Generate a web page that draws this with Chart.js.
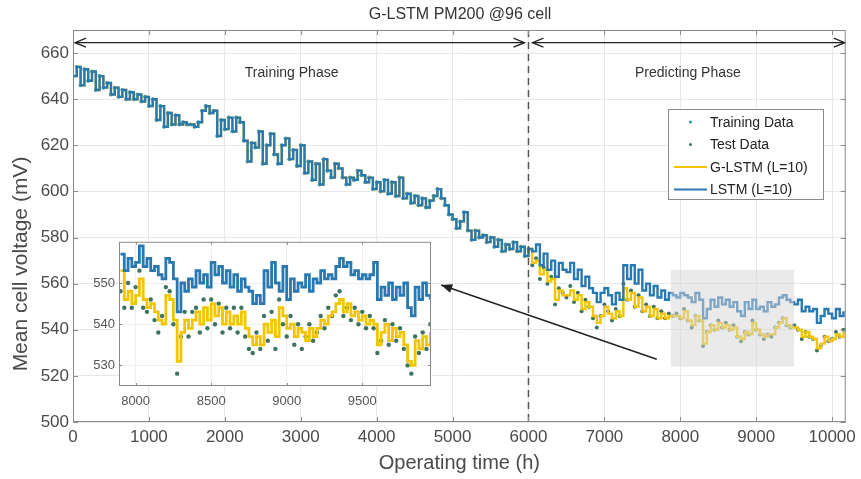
<!DOCTYPE html>
<html>
<head>
<meta charset="utf-8">
<script src="https://cdn.jsdelivr.net/npm/chart.js@4.4.1/dist/chart.umd.min.js"></script>
<style>
  html, body { margin: 0; padding: 0; background: #fff; }
  #wrap { position: relative; width: 861px; height: 479px; }
  #main { position: absolute; left: 0; top: 0; }
  #inset { position: absolute; left: 88px; top: 230px; }
</style>
</head>
<body>
<div id="wrap">
  <canvas id="main" width="861" height="479"></canvas>
  <canvas id="inset" width="350" height="180"></canvas>
</div>
<script>
// ---- data ----
const step = 50;               // h between samples of the measured curve
const predStart = 6000;        // start of the predicting phase
const measured = [
  650, 654, 646, 653, 648, 652, 644, 650, 645, 647, 642, 645, 641, 644, 640, 643, 640, 642, 639, 641,
  637, 640, 631, 637, 628, 634, 629, 633, 629, 630, 629, 629, 628, 630, 635, 637, 634, 635, 624, 631,
  627, 632, 626, 632, 630, 622, 613, 621, 619, 626, 612, 620, 625, 616, 612, 620, 623, 614, 618, 611,
  620, 608, 613, 605, 612, 603, 614, 609, 606, 612, 610, 606, 603, 606, 605, 609, 607, 604, 606, 601,
  604, 600, 605, 599, 604, 598, 606, 597, 599, 595, 598, 594, 597, 593, 596, 598, 601, 597, 594, 590,
  588, 584, 587, 591, 583, 579, 583, 580, 581, 578, 580, 576, 579, 574, 577, 575, 578, 574, 576, 572,
  575, 568, 571, 562, 567, 560, 563, 551, 558, 556, 554, 559, 552, 556, 548, 553, 550, 545, 541, 546,
  551, 548, 544, 549, 546, 560, 553, 557, 550, 555, 548, 551, 546, 550, 545, 548, 545, 547, 546, 547,
  545, 549, 544, 541, 546, 544, 533, 539, 542, 540, 544, 541, 543, 540, 542, 537, 535, 539, 538, 544,
  540, 538, 536, 538, 537, 541, 543, 545, 542, 541, 542, 540, 536, 539, 537, 536, 531, 533, 537, 535,
  536, 539, 537, 540
];
const lstmPred = [
  576, 574, 577, 568, 573, 566, 570, 563, 569, 566, 565, 569, 562, 566, 559, 563, 558, 556, 552, 556,
  558, 555, 551, 556, 553, 568, 562, 568, 560, 566, 557, 560, 555, 559, 554, 557, 553, 556, 555, 554,
  556, 555, 554, 552, 556, 553, 545, 549, 553, 550, 554, 551, 553, 550, 552, 548, 546, 552, 549, 553,
  549, 550, 548, 552, 550, 551, 554, 555, 553, 552, 551, 553, 548, 550, 548, 549, 543, 546, 549, 547,
  545, 549, 546, 548
];
const glstmPred = [
  574, 569, 570, 564, 566, 561, 562, 553, 557, 555, 555, 557, 553, 555, 549, 552, 550, 546, 543, 546,
  550, 547, 545, 548, 546, 558, 553, 556, 550, 554, 548, 550, 546, 549, 545, 547, 545, 546, 546, 546,
  545, 548, 544, 542, 546, 544, 534, 539, 542, 540, 543, 541, 542, 540, 541, 537, 536, 539, 538, 543,
  540, 538, 537, 538, 538, 541, 543, 545, 542, 541, 541, 540, 537, 539, 537, 536, 532, 534, 537, 535,
  536, 538, 537, 539
];

// inset (zoom on 7900-9950 h), 25 h per sample
const zoomStart = 7900;
const zoomStep = 25;
const lstmZoom = [
  557, 553, 556, 554, 555, 559, 554, 556, 553, 554, 552, 551, 556, 555, 551, 543, 550, 548, 551, 549,
  553, 550, 552, 549, 555, 552, 554, 550, 553, 549, 552, 548, 551, 549, 548, 545, 547, 545, 553, 549,
  555, 550, 548, 554, 546, 551, 548, 550, 549, 552, 548, 551, 550, 553, 551, 552, 551, 554, 556, 554,
  555, 552, 553, 551, 552, 551, 552, 555, 546, 549, 547, 550, 546, 549, 547, 550, 544, 542, 549, 546,
  550, 547, 546
];
const glstmZoom = [
  553, 546, 548, 545, 547, 551, 546, 544, 545, 543, 541, 540, 547, 546, 541, 531, 538, 541, 539, 541,
  543, 540, 544, 541, 545, 542, 544, 540, 543, 540, 542, 540, 543, 539, 537, 535, 537, 535, 540, 538,
  541, 537, 544, 542, 539, 540, 537, 539, 538, 536, 539, 537, 539, 541, 540, 542, 543, 545, 546, 543,
  545, 542, 543, 541, 542, 540, 541, 540, 535, 538, 540, 536, 539, 537, 538, 535, 531, 530, 536, 534,
  537, 535, 538
];
const testZoom = [
  548, 544, 550, 544, 549, 553, 544, 543, 546, 541, 538, 542, 549, 548, 540, 528, 537, 543, 537, 543,
  544, 538, 546, 539, 546, 540, 545, 538, 544, 539, 544, 538, 544, 537, 534, 533, 538, 534, 542, 536,
  543, 534, 546, 540, 537, 542, 535, 540, 534, 537, 540, 536, 538, 542, 539, 544, 542, 547, 548, 542,
  544, 541, 544, 540, 543, 539, 542, 539, 533, 536, 541, 535, 540, 536, 539, 534, 530, 528, 537, 533,
  538, 534, 540
];

const xTicks = [0, 1000, 2000, 3000, 4000, 5000, 6000, 7000, 8000, 9000, 10000];
const yTicks = [500, 520, 540, 560, 580, 600, 620, 640, 660];
const zoomXTicks = [8000, 8500, 9000, 9500];
const zoomYTicks = [530, 540, 550];

// ---- build points ----
const trainPts = [], testPts = [], lstmLine = [], glstmLine = [];
measured.forEach((v, i) => {
  const t = i * step;
  if (t <= predStart) {
    trainPts.push({x: t, y: v});
    lstmLine.push({x: t, y: v});
    glstmLine.push({x: t, y: v});
  } else {
    testPts.push({x: t, y: v});
  }
});
lstmPred.forEach((v, i) => { if (i > 0) lstmLine.push({x: predStart + i * step, y: v}); });
glstmPred.forEach((v, i) => { if (i > 0) glstmLine.push({x: predStart + i * step, y: v}); });

const zt = i => zoomStart + i * zoomStep;
const lstmZ = lstmZoom.map((v, i) => ({x: zt(i), y: v}));
const glstmZ = glstmZoom.map((v, i) => ({x: zt(i), y: v}));
const testZ = testZoom.map((v, i) => ({x: zt(i), y: v}));

const BLUE = '#2878b2';
const YELLOW = '#f2c500';
const TRAIN = '#2f8fa6';
const TEST = '#3d735f';
const FONT = "'Liberation Sans', Arial, sans-serif";

function arrowHead(ctx, x, y, dir, filled) {
  ctx.beginPath();
  ctx.moveTo(x - dir * 11, y - 4.5);
  ctx.lineTo(x, y);
  ctx.lineTo(x - dir * 11, y + 4.5);
  if (filled) { ctx.closePath(); ctx.fill(); } else ctx.stroke();
}

function boxAndTicks(chart, xt, yt, len) {
  const {ctx, chartArea: a, scales: {x, y}} = chart;
  ctx.save();
  ctx.strokeStyle = '#8a8a8a';
  ctx.lineWidth = 1;
  ctx.strokeRect(a.left + 0.5, a.top + 0.5, a.right - a.left - 1, a.bottom - a.top - 1);
  ctx.beginPath();
  xt.forEach(v => {
    const px = Math.round(x.getPixelForValue(v)) + 0.5;
    ctx.moveTo(px, a.bottom); ctx.lineTo(px, a.bottom - len);
    ctx.moveTo(px, a.top); ctx.lineTo(px, a.top + len);
  });
  yt.forEach(v => {
    const py = Math.round(y.getPixelForValue(v)) + 0.5;
    ctx.moveTo(a.left, py); ctx.lineTo(a.left + len, py);
    ctx.moveTo(a.right, py); ctx.lineTo(a.right - len, py);
  });
  ctx.stroke();
  ctx.restore();
}

const decor = {
  id: 'decor',
  afterDatasetsDraw(chart) {
    const {ctx, chartArea: a, scales: {x, y}} = chart;
    ctx.save();
    // highlighted zoom window
    ctx.fillStyle = 'rgba(214, 214, 216, 0.5)';
    const rx0 = x.getPixelForValue(7875), rx1 = x.getPixelForValue(9500);
    const ry0 = y.getPixelForValue(566), ry1 = y.getPixelForValue(524);
    ctx.fillRect(rx0, ry0, rx1 - rx0, ry1 - ry0);

    // phase split
    const xs = x.getPixelForValue(predStart);
    ctx.strokeStyle = '#555';
    ctx.lineWidth = 1.5;
    ctx.setLineDash([7, 5]);
    ctx.beginPath(); ctx.moveTo(xs, a.top); ctx.lineTo(xs, a.bottom); ctx.stroke();
    ctx.setLineDash([]);

    // phase arrows
    const ay = y.getPixelForValue(664.5);
    ctx.strokeStyle = '#222'; ctx.lineWidth = 1.3;
    ctx.beginPath();
    ctx.moveTo(a.left + 2, ay); ctx.lineTo(xs - 4, ay);
    ctx.moveTo(xs + 4, ay); ctx.lineTo(a.right - 1, ay);
    ctx.stroke();
    arrowHead(ctx, a.left + 2, ay, -1, false);
    arrowHead(ctx, xs - 4, ay, 1, false);
    arrowHead(ctx, xs + 4, ay, -1, false);
    arrowHead(ctx, a.right - 1, ay, 1, false);

    ctx.fillStyle = '#333';
    ctx.font = '14px ' + FONT;
    ctx.textAlign = 'center'; ctx.textBaseline = 'middle';
    ctx.fillText('Training Phase', x.getPixelForValue(2880), y.getPixelForValue(651.5));
    ctx.fillText('Predicting Phase', x.getPixelForValue(8100), y.getPixelForValue(651.5));

    // pointer to the inset
    const p0x = x.getPixelForValue(7690), p0y = y.getPixelForValue(527.2);
    const p1x = x.getPixelForValue(4850), p1y = y.getPixelForValue(559.4);
    ctx.strokeStyle = '#222'; ctx.fillStyle = '#222'; ctx.lineWidth = 1.4;
    ctx.beginPath(); ctx.moveTo(p0x, p0y); ctx.lineTo(p1x, p1y); ctx.stroke();
    ctx.save();
    ctx.translate(p1x, p1y);
    ctx.rotate(Math.atan2(p0y - p1y, p0x - p1x) + Math.PI);
    arrowHead(ctx, 0, 0, 1, true);
    ctx.restore();

    // legend
    ctx.fillStyle = '#fff';
    ctx.fillRect(668, 109, 155, 90);
    ctx.strokeStyle = '#8a8a8a'; ctx.lineWidth = 1;
    ctx.strokeRect(668.5, 109.5, 155, 90);
    const items = [
      ['Training Data', 'dot', TRAIN],
      ['Test Data', 'dot', TEST],
      ['G-LSTM (L=10)', 'line', YELLOW],
      ['LSTM (L=10)', 'line', BLUE]
    ];
    ctx.font = '14px ' + FONT;
    ctx.textAlign = 'left';
    items.forEach((it, i) => {
      const ly = 122 + i * 22.5;
      if (it[1] === 'dot') {
        ctx.fillStyle = it[2];
        ctx.beginPath(); ctx.arc(690.5, ly, 1.5, 0, Math.PI * 2); ctx.fill();
      } else {
        ctx.strokeStyle = it[2]; ctx.lineWidth = 1.8;
        ctx.beginPath(); ctx.moveTo(674, ly); ctx.lineTo(707, ly); ctx.stroke();
      }
      ctx.fillStyle = '#222';
      ctx.fillText(it[0], 710, ly + 1);
    });

    // title and y-axis title
    ctx.fillStyle = '#333';
    ctx.font = '16px ' + FONT;
    ctx.textAlign = 'center';
    ctx.fillText('G-LSTM PM200 @96 cell', 460, 15);
    ctx.fillStyle = '#4a4a4a';
    ctx.font = '21px ' + FONT;
    ctx.translate(21, 264);
    ctx.rotate(-Math.PI / 2);
    ctx.fillText('Mean cell voltage (mV)', 0, 0);
    ctx.restore();
    boxAndTicks(chart, xTicks, yTicks, 5);
  }
};

new Chart(document.getElementById('main'), {
  type: 'scatter',
  data: {
    datasets: [
      {label: 'LSTM (L=10)', data: lstmLine, showLine: true, stepped: true, borderColor: BLUE,
       borderWidth: 2.4, pointRadius: 0, order: 0},
      {label: 'G-LSTM (L=10)', data: glstmLine, showLine: true, stepped: true, borderColor: YELLOW,
       borderWidth: 2.4, pointRadius: 0, order: 1},
      {label: 'Test Data', data: testPts, pointRadius: 2, backgroundColor: TEST, borderWidth: 0, order: 2},
      {label: 'Training Data', data: trainPts, pointRadius: 2, backgroundColor: TRAIN, borderWidth: 0, order: 3}
    ]
  },
  options: {
    responsive: false,
    animation: false,
    events: [],
    layout: {padding: {top: 30, right: 14, left: 0, bottom: 0}},
    plugins: {legend: {display: false}, tooltip: {enabled: false}},
    scales: {
      x: {
        type: 'linear', min: 0, max: 10180,
        afterBuildTicks: s => { s.ticks = xTicks.map(v => ({value: v})); },
        afterFit: s => { s.height = 57; },
        grid: {color: '#e8e8e8', drawTicks: false},
        border: {display: false},
        ticks: {padding: 5, color: '#4a4a4a', font: {family: FONT, size: 17}, callback: v => String(v)},
        title: {display: true, text: 'Operating time (h)', color: '#4a4a4a', padding: {top: 5},
                font: {family: FONT, size: 20}}
      },
      y: {
        type: 'linear', min: 500, max: 670,
        afterBuildTicks: s => { s.ticks = yTicks.map(v => ({value: v})); },
        afterFit: s => { s.width = 73; },
        grid: {color: '#e8e8e8', drawTicks: false},
        border: {display: false},
        ticks: {padding: 4, color: '#4a4a4a', font: {family: FONT, size: 17}, callback: v => String(v)}
      }
    }
  },
  plugins: [decor]
});

// ---- inset ----
const insetFrame = {
  id: 'insetFrame',
  beforeDraw(chart) {
    const {ctx, chartArea: a} = chart;
    ctx.save();
    ctx.fillStyle = '#fff';
    ctx.fillRect(a.left, a.top, a.right - a.left, a.bottom - a.top);
    ctx.restore();
  },
  afterDatasetsDraw(chart) { boxAndTicks(chart, zoomXTicks, zoomYTicks, 3); }
};

new Chart(document.getElementById('inset'), {
  type: 'scatter',
  data: {
    datasets: [
      {data: lstmZ, showLine: true, stepped: true, borderColor: BLUE, borderWidth: 2.8, pointRadius: 0, order: 0},
      {data: glstmZ, showLine: true, stepped: true, borderColor: YELLOW, borderWidth: 2.8, pointRadius: 0, order: 1},
      {data: testZ, pointRadius: 2.2, backgroundColor: TEST, borderWidth: 0, order: 2}
    ]
  },
  options: {
    responsive: false,
    animation: false,
    events: [],
    layout: {padding: {top: 4, right: 7, left: 0, bottom: 0}},
    plugins: {legend: {display: false}, tooltip: {enabled: false}},
    scales: {
      x: {
        type: 'linear', min: 7890, max: 9955,
        afterBuildTicks: s => { s.ticks = zoomXTicks.map(v => ({value: v})); },
        afterFit: s => { s.height = 24; },
        grid: {color: '#eeeeee', drawTicks: false},
        border: {display: false},
        ticks: {padding: 8, color: '#555', font: {family: FONT, size: 13}, callback: v => String(v)}
      },
      y: {
        type: 'linear', min: 525, max: 560,
        afterBuildTicks: s => { s.ticks = zoomYTicks.map(v => ({value: v})); },
        afterFit: s => { s.width = 31; },
        grid: {color: '#eeeeee', drawTicks: false},
        border: {display: false},
        ticks: {padding: 4, color: '#555', font: {family: FONT, size: 13}, callback: v => String(v)}
      }
    }
  },
  plugins: [insetFrame]
});
</script>
</body>
</html>
